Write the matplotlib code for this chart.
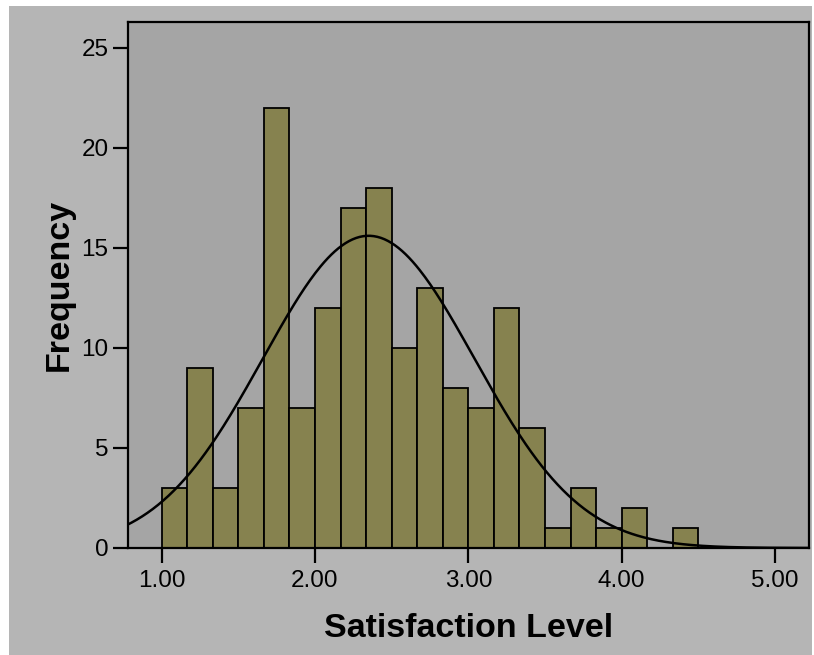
import numpy as np
import matplotlib
matplotlib.use("Agg")
import matplotlib.pyplot as plt
from matplotlib.patches import Rectangle

# histogram counts (bins of 1/6 starting at 1.00)
bin_start = 1.0
bin_width = 1.0 / 6.0
counts = [3, 9, 3, 7, 22, 7, 12, 17, 18, 10, 13, 8, 7, 12, 6, 1, 3, 1, 2, 0, 1]

# normal curve parameters (estimated)
curve_mean = 2.35
curve_sd = 0.69
n_total = sum(counts)

x_ticks = [1.0, 2.0, 3.0, 4.0, 5.0]
x_tick_labels = ["1.00", "2.00", "3.00", "4.00", "5.00"]
y_ticks = [0, 5, 10, 15, 20, 25]

plt.rcParams["font.family"] = ["Liberation Sans", "DejaVu Sans"]

fig = plt.figure(figsize=(8.14, 6.55), dpi=100, facecolor="white")
# gray panel behind the chart, white strip at top/left
fig.patches.append(Rectangle((9 / 814, 0), 803 / 814, 649 / 655,
                             transform=fig.transFigure, facecolor="#b5b5b5",
                             edgecolor="none", zorder=-1))

ax = fig.add_axes([128 / 814, 107 / 655, 681 / 814, 526 / 655])
ax.set_facecolor("#a5a5a5")

edges = bin_start + bin_width * np.arange(len(counts))
ax.bar(edges, counts, width=bin_width, align="edge", color="#86824f",
       edgecolor="black", linewidth=1.3, zorder=2)

xs = np.linspace(0.7, 5.3, 400)
ys = n_total * bin_width / (curve_sd * np.sqrt(2 * np.pi)) * \
    np.exp(-0.5 * ((xs - curve_mean) / curve_sd) ** 2)
ax.plot(xs, ys, color="black", linewidth=1.8, zorder=3)

ax.set_xlim(0.781, 5.221)
ax.set_ylim(0, 26.3)
ax.set_xticks(x_ticks)
ax.set_xticklabels(x_tick_labels)
ax.set_yticks(y_ticks)
ax.tick_params(axis="both", direction="out", length=11, width=1.6,
               labelsize=17.5, color="black")
ax.tick_params(axis="x", pad=5)
ax.tick_params(axis="y", pad=3)

for s in ax.spines.values():
    s.set_linewidth(1.6)
    s.set_color("black")

ax.set_xlabel("Satisfaction Level", fontsize=24.5, fontweight="bold", labelpad=15)
ax.set_ylabel("Frequency", fontsize=24.5, fontweight="bold", labelpad=5)

fig.savefig("out.png", dpi=100, facecolor=fig.get_facecolor())
